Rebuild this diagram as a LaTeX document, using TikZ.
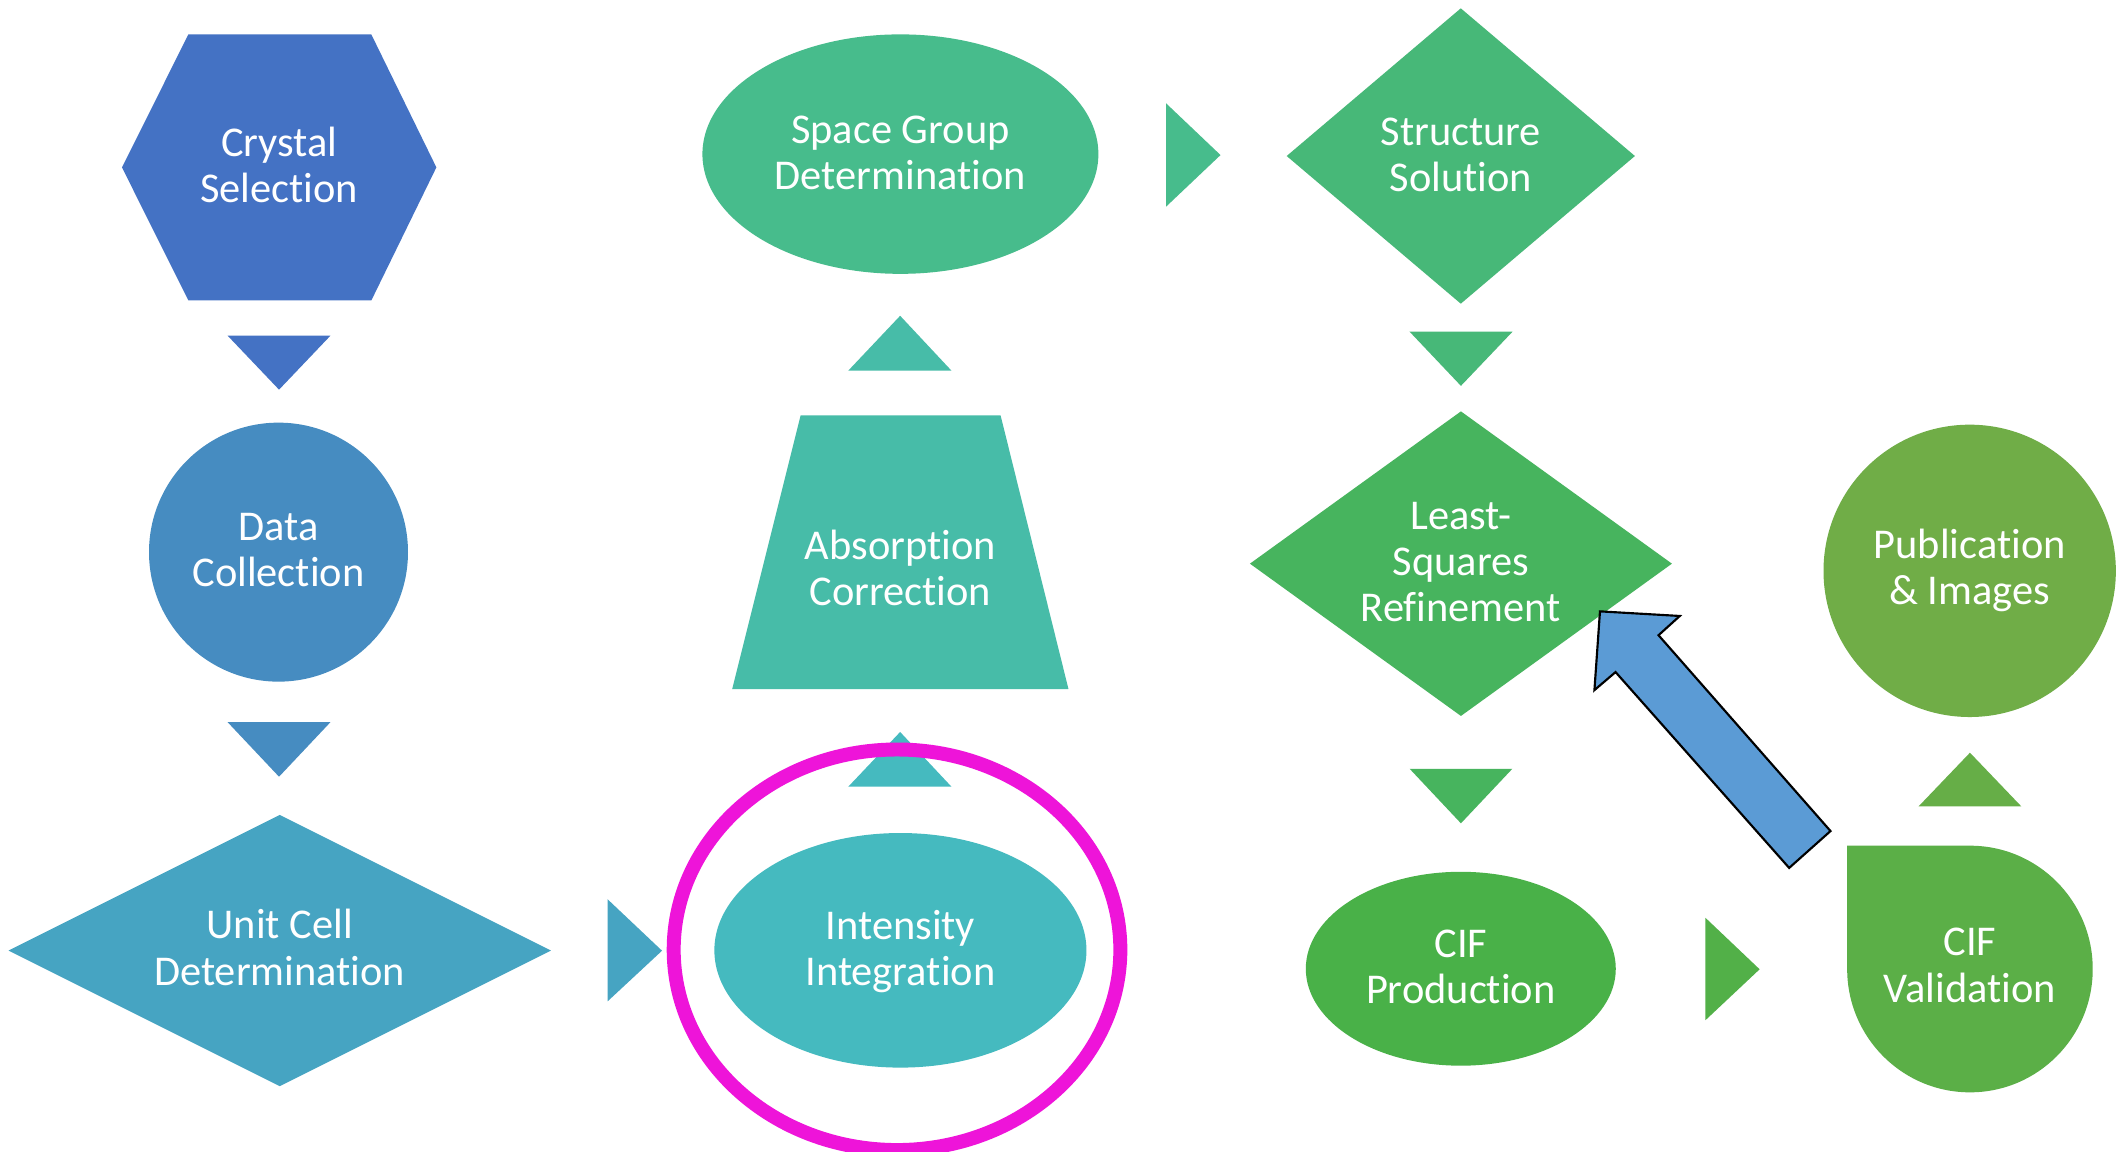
\documentclass[tikz,border=0pt]{standalone}
\usepackage{fontspec}
\setmainfont{Carlito}[Ligatures={NoCommon}]
\usetikzlibrary{shapes.geometric}
\definecolor{cA}{HTML}{4472C4}
\definecolor{cB}{HTML}{468CC1}
\definecolor{cC}{HTML}{46A4C2}
\definecolor{cD}{HTML}{45BABF}
\definecolor{cE}{HTML}{47BCA8}
\definecolor{cF}{HTML}{47BC8C}
\definecolor{cG}{HTML}{47B878}
\definecolor{cH}{HTML}{47B45E}
\definecolor{cI}{HTML}{49B148}
\definecolor{cIJ}{HTML}{52B048}
\definecolor{cJ}{HTML}{5BAF47}
\definecolor{cJK}{HTML}{66AE47}
\definecolor{cK}{HTML}{70AD47}
\definecolor{arrowblue}{HTML}{5B9BD5}
\definecolor{ringcol}{HTML}{EE14D9}
\begin{document}
\begin{tikzpicture}[x=0.01cm,y=-0.01cm,
  lbl/.style={text=white,font=\fontsize{8.9pt}{9.7pt}\selectfont,align=center,inner sep=0pt},
  shp/.style={inner sep=0pt,outer sep=0pt,draw=none},
  tri/.style={draw=none}]
\clip (0,0) rectangle (1568,850);
\fill[white] (0,0) rectangle (1568,850);

% ---- column 1
\fill[cA] (139,25.4) -- (274,25.4) -- (322,123.5) -- (274,221.7) -- (139,221.7) -- (90,123.5) -- cycle;
\node[lbl] (crystal) at (206,125.5) {\strut Crystal\\Selection\strut};
\fill[cA] (168,247.7) -- (243.8,247.7) -- (205.9,287.5) -- cycle;

\node[shp,circle,fill=cB,minimum size=1.91cm] (datash) at (205.5,407.4) {};
\node[lbl] (data) at (205.5,409.2) {\strut Data\\Collection\strut};
\fill[cB] (168,532.9) -- (243.8,532.9) -- (205.9,573.1) -- cycle;

\node[shp,diamond,fill=cC,minimum width=4cm,minimum height=2cm] (unitsh) at (206.4,701.4) {};
\node[lbl] (unit) at (206.4,703) {\strut Unit Cell\\Determination\strut};
\fill[cC] (448.3,663.5) -- (488.5,701.5) -- (448.3,738.9) -- cycle;

% ---- column 2
\node[shp,ellipse,fill=cD,minimum width=2.744cm,minimum height=1.73cm] (intsh) at (664.4,701.2) {};
\node[lbl] (int) at (664.4,703.4) {\strut Intensity\\Integration\strut};
\fill[cD] (626,580.4) -- (702,580.4) -- (664.2,540.1) -- cycle;
\node[shp,ellipse,draw=ringcol,line width=2.93pt,minimum width=3.294cm,minimum height=2.954cm] (ring) at (661.9,700.8) {};

\fill[cE] (590.8,306.4) -- (738.3,306.4) -- (788.4,508.4) -- (540.3,508.4) -- cycle;
\node[lbl] (abs) at (664.4,423) {\strut Absorption\\Correction\strut};
\fill[cE] (626,273.4) -- (702,273.4) -- (664.2,233) -- cycle;

\node[shp,ellipse,fill=cF,minimum width=2.92cm,minimum height=1.766cm] (sgsh) at (664.4,113.7) {};
\node[lbl] (sg) at (664.4,116) {\strut Space Group\\Determination\strut};
\fill[cF] (860.4,76.2) -- (900.6,114.4) -- (860.4,152.5) -- cycle;

% ---- column 3
\node[shp,diamond,fill=cG,minimum width=2.568cm,minimum height=2.178cm] (stsh) at (1077.9,115.1) {};
\node[lbl] (st) at (1077.9,117.4) {\strut Structure\\Solution\strut};
\fill[cG] (1040,244.6) -- (1116.2,244.6) -- (1078,284.7) -- cycle;

\node[shp,diamond,fill=cH,minimum width=3.112cm,minimum height=2.246cm] (lssh) at (1078,415.9) {};
\node[lbl] (ls) at (1078,417.8) {\strut Least-\\Squares\\Refinement\strut};
\fill[cH] (1040.2,567.3) -- (1115.9,567.3) -- (1078,607.5) -- cycle;

\node[shp,ellipse,fill=cI,minimum width=2.286cm,minimum height=1.43cm] (cifpsh) at (1077.9,714.8) {};
\node[lbl] (cifp) at (1077.9,716.5) {\strut CIF\\Production\strut};
\fill[cIJ] (1258.4,677.2) -- (1298.4,715.2) -- (1258.4,752.8) -- cycle;

% ---- column 4
\fill[cJ] (1363,624) -- (1453.6,624) arc[start angle=-90,end angle=180,x radius=90.6,y radius=91] -- cycle;
\node[lbl] (cifv) at (1453.6,715.5) {\strut CIF\\Validation\strut};
\fill[cJK] (1415.7,595) -- (1491.5,595) -- (1453.6,555.4) -- cycle;

\node[shp,circle,fill=cK,minimum size=2.156cm] (pubsh) at (1453.4,421.2) {};
\node[lbl] (pub) at (1453.4,422) {\strut Publication\\\& Images\strut};

% ---- feedback block arrow
\coordinate (fbtip) at (1180.6,451.1);
\draw[black,line width=0.45pt,fill=arrowblue,line join=miter]
  (fbtip) -- (1239.5,454.5) -- (1223.8,468.7) -- (1350.7,613.2)
  -- (1320.2,640.4) -- (1192.1,495.9) -- (1176.5,509.2) -- cycle;
\end{tikzpicture}
\end{document}
